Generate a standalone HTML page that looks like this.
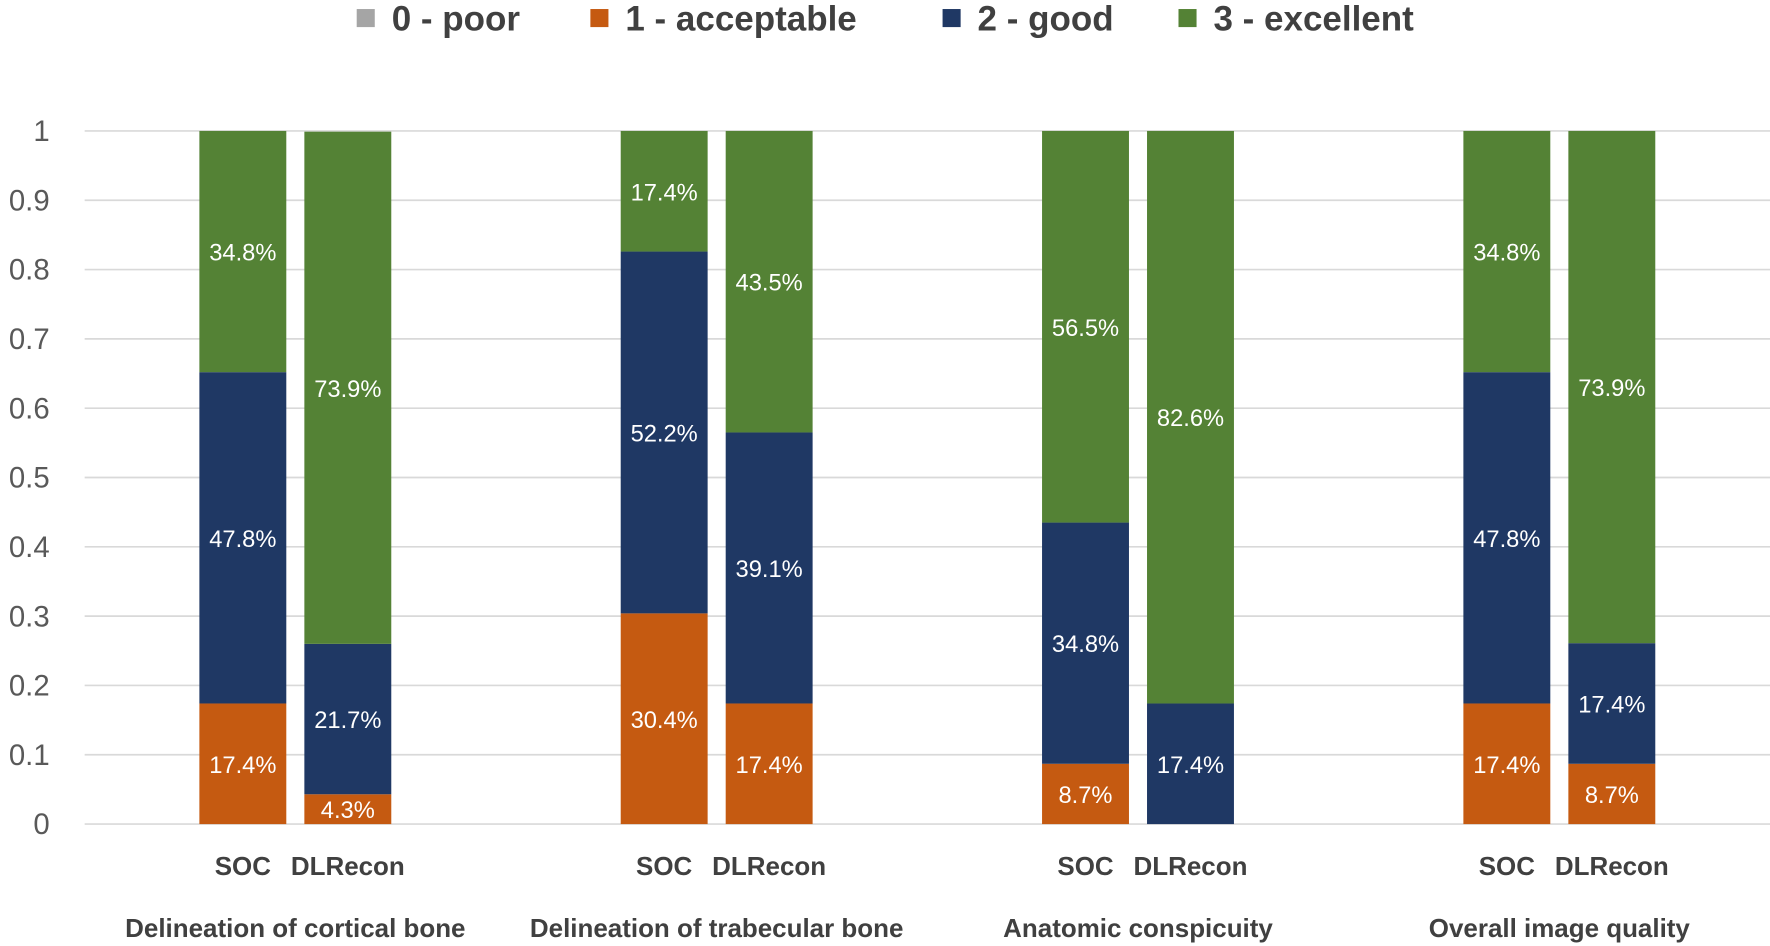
<!DOCTYPE html>
<html><head><meta charset="utf-8"><style>
body{margin:0;background:#fff;}
svg{display:block;}
svg text{font-family:"Liberation Sans","DejaVu Sans",sans-serif;}
</style></head><body>
<svg id="chart" width="1770" height="946" viewBox="0 0 1568 838" preserveAspectRatio="none" xmlns="http://www.w3.org/2000/svg">
<g id="legend"></g>
<g id="grid"></g>
<g id="yaxis"></g>
<g id="bars"></g>
<g id="xaxis"></g>
</svg>
<script>
const categories = ["Delineation of cortical bone","Delineation of trabecular bone","Anatomic conspicuity","Overall image quality"];
const methods = ["SOC","DLRecon"];
const seriesNames = ["0 - poor","1 - acceptable","2 - good","3 - excellent"];
const poor =       [0,0, 0,0, 0,0, 0,0];
const acceptable = [0.174,0.043, 0.304,0.174, 0.087,0, 0.174,0.087];
const good =       [0.478,0.217, 0.522,0.391, 0.348,0.174, 0.478,0.174];
const excellent =  [0.348,0.739, 0.174,0.435, 0.565,0.826, 0.348,0.739];
const yTicks = [0,0.1,0.2,0.3,0.4,0.5,0.6,0.7,0.8,0.9,1];
const yTickLabels = ["0","0.1","0.2","0.3","0.4","0.5","0.6","0.7","0.8","0.9","1"];

const colors = ["#A5A5A5","#C55A11","#1F3864","#548235"];
const NS="http://www.w3.org/2000/svg";
const plotL=75, plotR=1568, y0=730, y1=116;
const y = v => y0 - v*(y0-y1);
const groupW=(plotR-plotL)/categories.length;
const barW=77, gap=16;
const barX = (g,m) => plotL + g*groupW + groupW/2 + (m===0 ? -gap/2-barW : gap/2);
function mk(tag,attrs,parent,text){const e=document.createElementNS(NS,tag);for(const k in attrs)e.setAttribute(k,attrs[k]);if(text!==undefined)e.textContent=text;parent.appendChild(e);return e;}

const grid=document.getElementById('grid'), yax=document.getElementById('yaxis');
yTicks.forEach((t,i)=>{
  const l=mk('line',{x1:plotL,x2:plotR,y1:y(t),y2:y(t),stroke:'#D9D9D9','stroke-width':1.5},grid);
  
  
  const tx=mk('text',{x:44,y:y(t)+9,'text-anchor':'end','font-size':26,fill:'#595959'},yax,yTickLabels[i]);
  
  
});

const series=[poor,acceptable,good,excellent];
const barsG=document.getElementById('bars'), xax=document.getElementById('xaxis');
categories.forEach((c,g)=>{
  methods.forEach((m,mi)=>{
    const idx=g*2+mi; let base=0; const x=barX(g,mi);
    series.forEach((s,si)=>{
      const v=s[idx]; if(v<=0) return;
      const r=mk('rect',{x:x,y:y(base+v),width:barW,height:y(base)-y(base+v),fill:colors[si]},barsG);
      
      
      const lt=mk('text',{x:x+barW/2,y:(y(base)+y(base+v))/2+8,'text-anchor':'middle','font-size':21,fill:'#fff'},barsG,(v*100).toFixed(1)+'%');
      
      
      base+=v;
    });
    const ml=mk('text',{x:x+barW/2,y:775,'text-anchor':'middle','font-size':23,'font-weight':'bold',fill:'#404040'},xax,m);
    
    
  });
  const cl=mk('text',{x:plotL+g*groupW+groupW/2,y:830,'text-anchor':'middle','font-size':23,'font-weight':'bold',fill:'#404040'},xax,c);
  
  
});

const leg=document.getElementById('legend');
const legX=[316,523,835,1044];
seriesNames.forEach((n,i)=>{
  const r=mk('rect',{x:legX[i],y:8,width:16,height:16,fill:colors[i]},leg);
  
  
  const t=mk('text',{x:legX[i]+31,y:27,'font-size':31,'font-weight':'bold',fill:'#404040'},leg,n);
  
  
});
</script>
</body></html>
